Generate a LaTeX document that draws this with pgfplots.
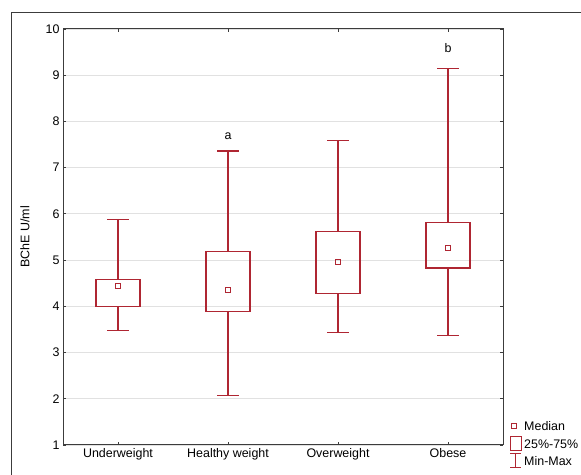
\documentclass[border=0pt]{standalone}
\usepackage{fontspec}
\setmainfont{Liberation Sans}
\usepackage{pgfplots}
\pgfplotsset{compat=1.18}
\usepgfplotslibrary{statistics}
\definecolor{bred}{RGB}{175,38,50}
\definecolor{gridc}{RGB}{225,225,225}
\definecolor{axc}{RGB}{60,60,60}
\begin{document}
\begin{tikzpicture}[x=1bp,y=1bp]
\useasboundingbox (0,0) rectangle (581,475);
\draw[axc, line width=0.9bp] (11,0) -- (11,463) -- (581,463);
\begin{axis}[
 at={(63bp,30bp)}, anchor=south west, scale only axis, width=440bp, height=416bp,
 xmin=0.5, xmax=4.5, ymin=1, ymax=10,
 xtick={1,2,3,4}, xticklabels={Underweight,Healthy weight,Overweight,Obese},
 ytick={1,2,3,4,5,6,7,8,9,10},
 ymajorgrids, grid style={gridc, line width=0.8bp},
 axis line style={axc, line width=1bp},
 tick style={axc, line width=0.8bp},
 major tick length=3bp,
 tick align=inside,
 ticklabel style={font=\fontsize{12.5}{14}\selectfont},
 /pgf/number format/assume math mode=true,
 ylabel={BChE U/ml},
 every axis y label/.style={at={(axis description cs:0,0.5)}, xshift=-38bp, rotate=90, anchor=center, font=\fontsize{12.5}{14}\selectfont},
 boxplot/draw direction=y,
 boxplot/box extend=0.4, boxplot/whisker extend=0.2,
 boxplot/draw/median/.code={\node[draw=bred, line width=1bp, minimum size=5bp, inner sep=0pt] at (boxplot box cs:\pgfplotsboxplotvalue{median},0.5) {};},
]
\addplot[draw=bred, line width=1.1bp, boxplot prepared={draw position=1, median=4.44, lower quartile=4.00, upper quartile=4.59, lower whisker=3.48, upper whisker=5.88}] coordinates {};
\addplot[draw=bred, line width=1.1bp, boxplot prepared={draw position=2, median=4.36, lower quartile=3.89, upper quartile=5.19, lower whisker=2.08, upper whisker=7.36}] coordinates {};
\addplot[draw=bred, line width=1.1bp, boxplot prepared={draw position=3, median=4.96, lower quartile=4.27, upper quartile=5.61, lower whisker=3.44, upper whisker=7.58}] coordinates {};
\addplot[draw=bred, line width=1.1bp, boxplot prepared={draw position=4, median=5.27, lower quartile=4.83, upper quartile=5.81, lower whisker=3.37, upper whisker=9.14}] coordinates {};
\node[font=\fontsize{12.5}{14}\selectfont] at (axis cs:2,7.67) {a};
\node[font=\fontsize{12.5}{14}\selectfont] at (axis cs:4,9.58) {b};
\end{axis}
% legend
\draw[bred, line width=1bp] (511.5,46.5) rectangle (516.5,51.5);
\draw[bred, line width=1bp] (510,24) rectangle (521,38);
\draw[bred, line width=1bp] (515.5,7) -- (515.5,21);
\draw[bred, line width=1bp] (510,7) -- (521,7);
\draw[bred, line width=1bp] (510,21) -- (521,21);
\begin{scope}[font=\fontsize{12.5}{14}\selectfont]
\node[anchor=west, inner sep=0pt] at (524,49) {Median};
\node[anchor=west, inner sep=0pt] at (524,31) {25\%-75\%};
\node[anchor=west, inner sep=0pt] at (524,14) {Min-Max};
\end{scope}
\end{tikzpicture}
\end{document}
